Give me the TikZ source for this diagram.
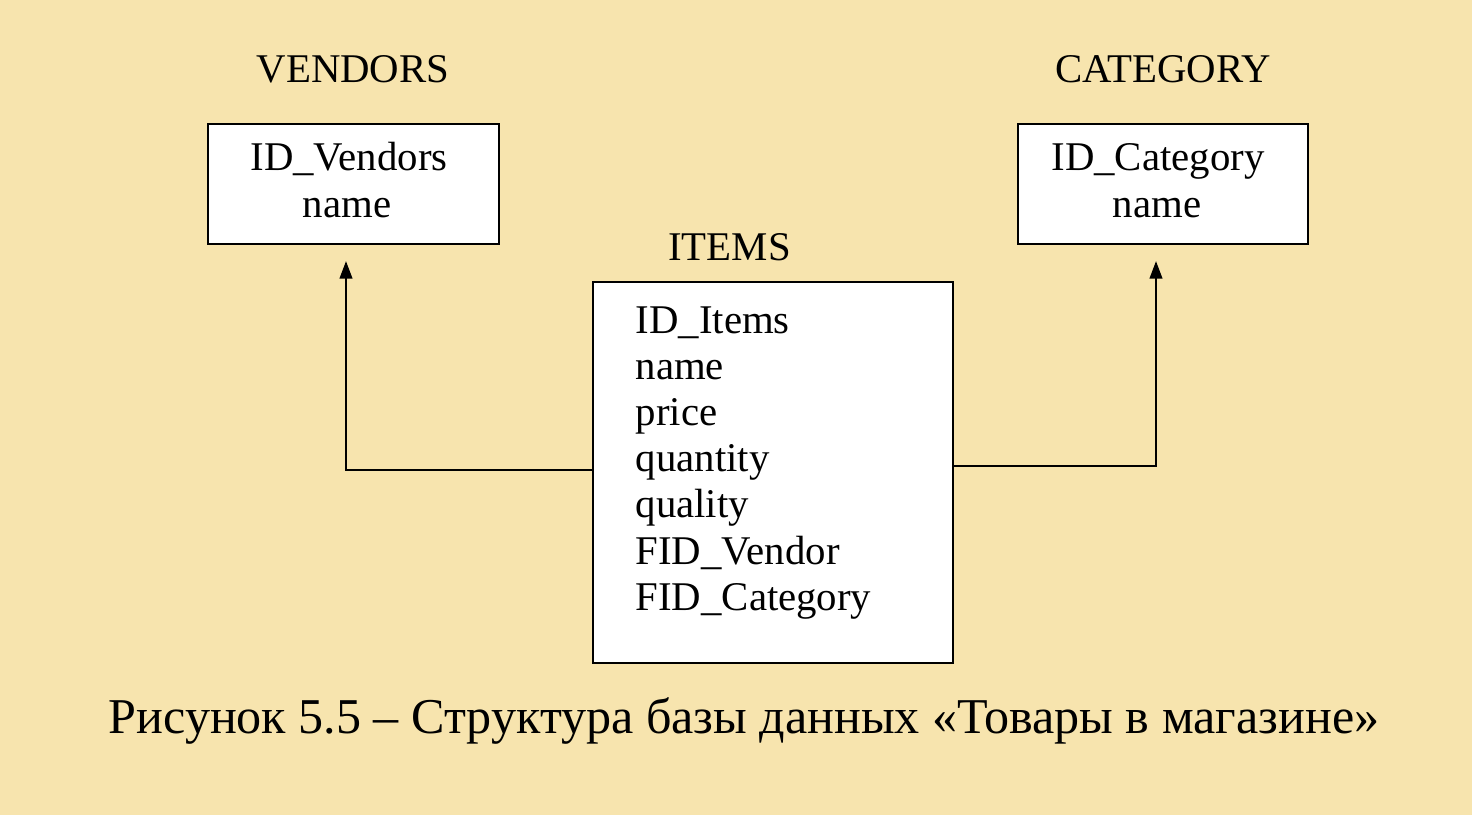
\documentclass[tikz,border=0pt]{standalone}
\usepackage{fontspec}
\setmainfont{Liberation Serif}
\usetikzlibrary{positioning, arrows.meta}

\definecolor{wheatbg}{RGB}{247,228,174}

\begin{document}
\begin{tikzpicture}[
    x=0.01cm, y=-0.01cm,
    % Define the style for the tables
    table/.style={draw, fill=white, line width=0.6pt, inner sep=0pt},
    % Define the style for the text
    tabname/.style={font=\fontsize{11.6}{13}\selectfont, anchor=base, inner sep=0pt},
    field/.style={font=\fontsize{11.6}{13}\selectfont, anchor=base, inner sep=0pt},
    conn/.style={line width=0.6pt, -{Triangle[length=5pt,width=3.6pt]}}
]

    % --- Background ---
    \fill[wheatbg] (0,0) rectangle (1472,815);

    % --- Vendors table ---
    \node[tabname] (vname) at (353,83) {VENDORS};
    \node[table, minimum width=2.91cm, minimum height=1.2cm] (vendors) at (353.5,184) {};
    \node[field] (vid) at (349,170) {ID\_Vendors};
    \node[field] (vnm) at (347,217) {name};

    % --- Category table ---
    \node[tabname] (cname) at (1163,83) {CATEGORY};
    \node[table, minimum width=2.9cm, minimum height=1.2cm] (category) at (1163,184) {};
    \node[field] (cid) at (1158,170) {ID\_Category};
    \node[field] (cnm) at (1157,217) {name};

    % --- Items table ---
    \node[tabname] (iname) at (729.5,260) {ITEMS};
    \node[table, minimum width=3.6cm, minimum height=3.81cm] (items) at (773,472.5) {};
    \foreach \fname [count=\i from 0] in {ID\_Items, name, price, quantity, quality, FID\_Vendor, FID\_Category} {
        \node[field, anchor=base west] (f\i) at (635,333+46.2*\i) {\fname};
    }

    % --- Connectors ---
    \draw[conn] ([yshift=0.025cm]items.west) -| ([xshift=-0.075cm,yshift=-0.16cm]vendors.south);
    \draw[conn] ([yshift=0.065cm]items.east) -| ([xshift=-0.07cm,yshift=-0.16cm]category.south);

    % --- Caption ---
    \node[anchor=base, inner sep=0pt, font=\fontsize{14.25}{16}\selectfont] (caption) at (744,733)
        {Рисунок 5.5 – Структура базы данных «Товары в магазине»};

\end{tikzpicture}
\end{document}
